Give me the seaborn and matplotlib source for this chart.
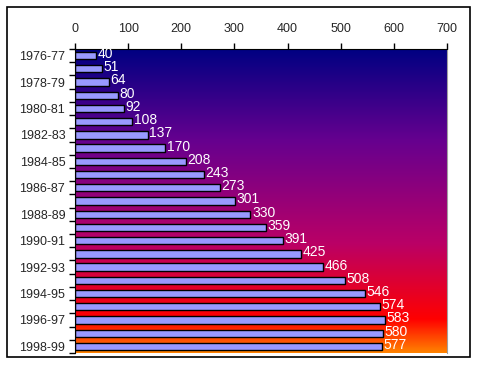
import numpy as np
import pandas as pd
import matplotlib
matplotlib.use('Agg')
import matplotlib.pyplot as plt
from matplotlib.colors import LinearSegmentedColormap
from matplotlib.patches import Rectangle
import seaborn as sns

# data
seasons = ['1976-77', '1977-78', '1978-79', '1979-80', '1980-81', '1981-82',
           '1982-83', '1983-84', '1984-85', '1985-86', '1986-87', '1987-88',
           '1988-89', '1989-90', '1990-91', '1991-92', '1992-93', '1993-94',
           '1994-95', '1995-96', '1996-97', '1997-98', '1998-99']
values = [40, 51, 64, 80, 92, 108, 137, 170, 208, 243, 273, 301,
          330, 359, 391, 425, 466, 508, 546, 574, 583, 580, 577]

df = pd.DataFrame({'season': seasons, 'value': values})

sns.set_style('white')
plt.rcParams['font.family'] = ['Liberation Sans', 'DejaVu Sans']

fig = plt.figure(figsize=(4.78, 3.65), dpi=100)
ax = fig.add_axes([75 / 478, 1 - 353 / 365, (447 - 75) / 478, (353 - 49) / 365])

# "early sunset" style gradient behind the bars
sunset = LinearSegmentedColormap.from_list('sunset', [
    (0.0, '#000082'), (0.30, '#66008F'), (0.64, '#BA0066'),
    (0.89, '#FF0000'), (1.0, '#FF8200')])
grad = np.linspace(0, 1, 256).reshape(-1, 1)
n = len(seasons)
ax.imshow(grad, cmap=sunset, aspect='auto',
          extent=[0, 700, n - 0.5, -0.5], zorder=0)

sns.barplot(data=df, x='value', y='season', order=seasons, orient='h',
            color='#9999FF', saturation=1, width=0.55,
            edgecolor='black', linewidth=1, ax=ax, zorder=2)

for i, v in enumerate(values):
    ax.text(v + 3, i - 0.12, str(v), color='white', fontsize=10,
            va='center', ha='left', zorder=3)

ax.set_xlim(0, 700)
ax.set_ylim(n - 0.5, -0.5)
ax.xaxis.tick_top()
ax.set_xticks(range(0, 701, 100))
ax.set_yticks(range(n))
ax.set_yticklabels([s if i % 2 == 0 else '' for i, s in enumerate(seasons)])
ax.set_yticks(np.arange(-0.5, n, 1), minor=True)
ax.tick_params(axis='y', which='major', length=0, labelsize=9, pad=7)
ax.tick_params(axis='y', which='minor', length=4, width=1, color='black', direction='out', left=True)
ax.tick_params(axis='x', length=4, width=1, color='black', direction='out', labelsize=9, pad=6, top=True)
ax.set_xlabel('')
ax.set_ylabel('')

ax.spines['bottom'].set_visible(False)
ax.spines['right'].set_color('#A0A0A0')
ax.spines['top'].set_color('black')
ax.spines['left'].set_color('black')

fig.patches.append(Rectangle((7 / 478, 1 - 357 / 365), (470 - 7) / 478, (357 - 7) / 365,
                             transform=fig.transFigure, fill=False,
                             edgecolor='black', linewidth=1.2))

fig.savefig('out.png', dpi=100)
